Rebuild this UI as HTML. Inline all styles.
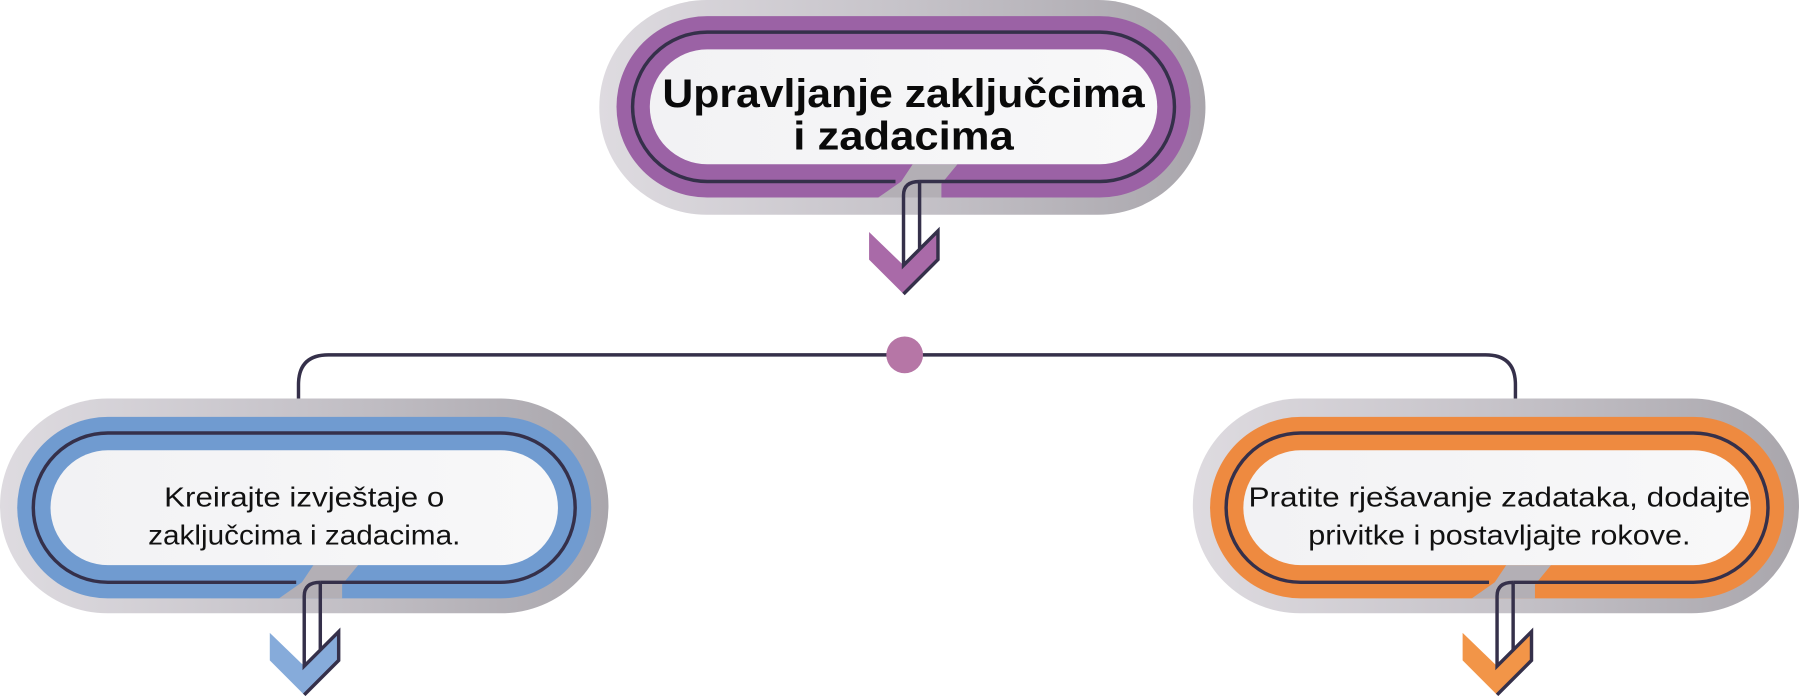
<!DOCTYPE html>
<html><head><meta charset="utf-8"><style>html,body{margin:0;padding:0;background:#fff}svg{display:block}</style></head>
<body>
<svg width="1799" height="696" viewBox="0 0 1567 606" preserveAspectRatio="none" xmlns="http://www.w3.org/2000/svg">
<defs>
<linearGradient id="g" x1="0" y1="0" x2="1" y2="0">
<stop offset="0" stop-color="#dedbe0"/><stop offset="0.5" stop-color="#c6c3c9"/><stop offset="1" stop-color="#a9a6ac"/></linearGradient>
<linearGradient id="w" x1="0" y1="0" x2="1" y2="0">
<stop offset="0" stop-color="#f2f2f4"/><stop offset="1" stop-color="#f8f8f9"/></linearGradient>
</defs>

<path d="M260,377 L260,335 Q260,309 286,309 L1294,309 Q1320,309 1320,335 L1320,377" fill="none" stroke="#35304a" stroke-width="3"/>
<circle cx="788" cy="309" r="16" fill="#b676a6"/>

<g transform="translate(522,0)">
<rect x="0" y="0" width="528" height="187" rx="93.5" fill="url(#g)"/>
<rect x="15" y="14" width="500" height="158" rx="79" fill="#9b62a5"/>
<polygon points="273,143 312,143 298,160 298,172 243,172 263,158" fill="#b3afb5"/>
<path d="M258,158 L94,158 A65,65 0 0 1 94,28 L436,28 A65,65 0 0 1 436,158 L279,158" fill="none" stroke="#35304a" stroke-width="3"/>
<rect x="44" y="43" width="442" height="100" rx="50" fill="url(#w)"/>
<polygon points="235,202 265,231 295,201 295,226 265,256 235,226" fill="#a96aa8"/>
<path d="M279,158 Q265,158 265,170 L265,231 L295,201 L295,226 L265,256 M279,158 L279,217" fill="none" stroke="#35304a" stroke-width="3"/>
<text x="265" y="93" text-anchor="middle" font-family="Liberation Sans, sans-serif" font-weight="bold" font-size="35" textLength="420" lengthAdjust="spacingAndGlyphs" fill="#0a0a0a">Upravljanje zaključcima</text>
<text x="265" y="130" text-anchor="middle" font-family="Liberation Sans, sans-serif" font-weight="bold" font-size="35" textLength="192" lengthAdjust="spacingAndGlyphs" fill="#0a0a0a">i zadacima</text>
</g>

<g transform="translate(0,347)">
<rect x="0" y="0" width="530" height="187" rx="93.5" fill="url(#g)"/>
<rect x="15" y="16" width="500" height="158" rx="79" fill="#709bd0"/>
<polygon points="273,145 312,145 298,162 298,174 243,174 263,160" fill="#b3afb5"/>
<path d="M258,160 L94,160 A65,65 0 0 1 94,30 L436,30 A65,65 0 0 1 436,160 L279,160" fill="none" stroke="#35304a" stroke-width="3"/>
<rect x="44" y="45" width="442" height="100" rx="50" fill="url(#w)"/>
<polygon points="235,204 265,233 295,203 295,228 265,258 235,228" fill="#86abda"/>
<path d="M279,160 Q265,160 265,172 L265,233 L295,203 L295,228 L265,258 M279,160 L279,219" fill="none" stroke="#35304a" stroke-width="3"/>
<text x="265" y="94" text-anchor="middle" font-family="Liberation Sans, sans-serif" font-size="24" textLength="244" lengthAdjust="spacingAndGlyphs" fill="#111">Kreirajte izvještaje o</text>
<text x="265" y="127" text-anchor="middle" font-family="Liberation Sans, sans-serif" font-size="24" textLength="272" lengthAdjust="spacingAndGlyphs" fill="#111">zaključcima i zadacima.</text>
</g>

<g transform="translate(1039,347)">
<rect x="0" y="0" width="528" height="187" rx="93.5" fill="url(#g)"/>
<rect x="15" y="16" width="500" height="158" rx="79" fill="#ee8a40"/>
<polygon points="273,145 312,145 298,162 298,174 243,174 263,160" fill="#b3afb5"/>
<path d="M258,160 L94,160 A65,65 0 0 1 94,30 L436,30 A65,65 0 0 1 436,160 L279,160" fill="none" stroke="#35304a" stroke-width="3"/>
<rect x="44" y="45" width="442" height="100" rx="50" fill="url(#w)"/>
<polygon points="235,204 265,233 295,203 295,228 265,258 235,228" fill="#f29548"/>
<path d="M279,160 Q265,160 265,172 L265,233 L295,203 L295,228 L265,258 M279,160 L279,219" fill="none" stroke="#35304a" stroke-width="3"/>
<text x="267" y="94" text-anchor="middle" font-family="Liberation Sans, sans-serif" font-size="24" textLength="437" lengthAdjust="spacingAndGlyphs" fill="#111">Pratite rješavanje zadataka, dodajte</text>
<text x="267" y="127" text-anchor="middle" font-family="Liberation Sans, sans-serif" font-size="24" textLength="333" lengthAdjust="spacingAndGlyphs" fill="#111">privitke i postavljajte rokove.</text>
</g>
</svg>
</body></html>
